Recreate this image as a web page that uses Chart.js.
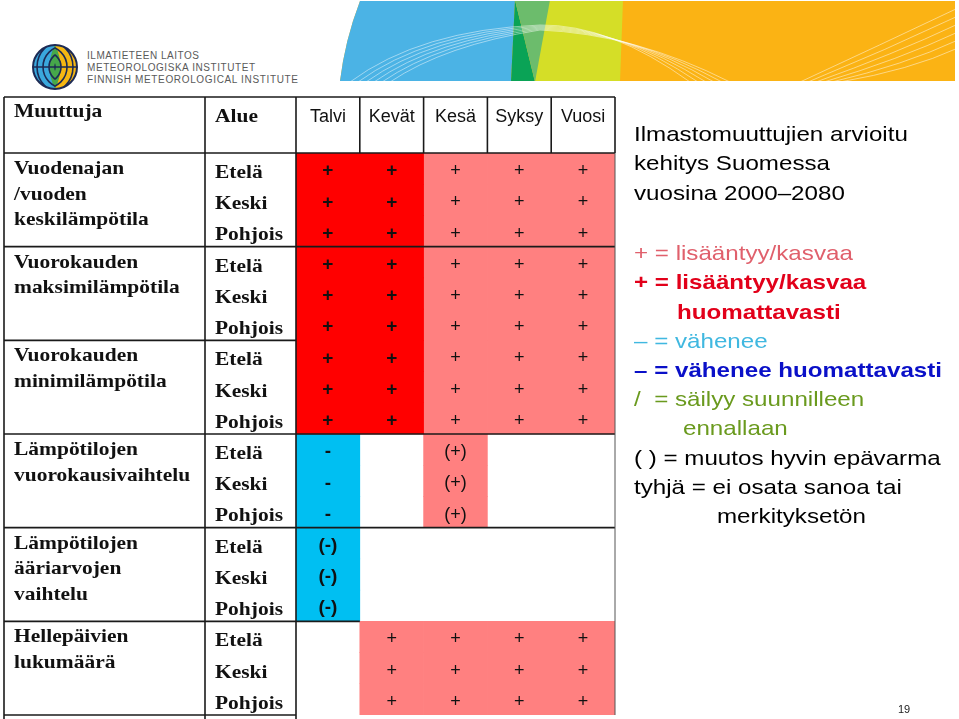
<!DOCTYPE html>
<html><head><meta charset="utf-8">
<script src="https://cdn.jsdelivr.net/npm/chart.js@4.4.1/dist/chart.umd.min.js"></script>
<style>
html,body{margin:0;padding:0;background:#fff;width:959px;height:719px;overflow:hidden;}
#wrap{position:relative;width:959px;height:719px;}
canvas{position:absolute;left:0;top:0;}
svg{position:absolute;left:0;top:0;}
.t{position:absolute;left:634px;font-family:'Liberation Sans',Arial,sans-serif;font-size:21px;line-height:29px;white-space:nowrap;transform:scaleX(1.15);transform-origin:0 0;}
.b{font-weight:bold;}
</style></head><body>
<div id="wrap">
<svg width="959" height="100" viewBox="0 0 959 100">
  <defs>
    <clipPath id="bc"><path d="M360 1 L955 1 L955 81 L340 81 Q345 40 360 1 Z"/></clipPath>
    <clipPath id="lc"><circle cx="55" cy="67" r="22"/></clipPath>
    <clipPath id="ll"><rect x="30" y="40" width="25" height="55"/></clipPath>
    <clipPath id="lr"><rect x="55" y="40" width="25" height="55"/></clipPath>
  </defs>
  <g clip-path="url(#bc)">
    <rect x="330" y="0" width="630" height="82" fill="#fbb314"/>
    <polygon points="330,0 515,0 511,82 330,82" fill="#4bb3e5"/>
    <polygon points="515,0 623,0 620,82 535,82" fill="#d5de27"/>
    <polygon points="515,0 511,82 535,82" fill="#0aa356"/>
    <polygon points="515,0 550,0 535,82" fill="#6cbc6c"/>
    <g fill="none" stroke="#ffffff" stroke-opacity="0.6" stroke-width="0.8">
      <path d="M350 82 Q420 30 540 25 Q610 24 690 82"/>
      <path d="M358 82 Q425 33 540 26 Q615 26 698 82"/>
      <path d="M366 82 Q430 36 540 27 Q620 28 706 82"/>
      <path d="M374 82 Q435 39 540 28 Q625 30 714 82"/>
      <path d="M382 82 Q440 42 540 29 Q630 32 722 82"/>
      <path d="M390 82 Q445 45 540 30 Q635 34 730 82"/>
      <path d="M800 82 Q880 45 958 8"/>
      <path d="M808 82 Q886 50 958 16"/>
      <path d="M816 82 Q892 55 958 24"/>
      <path d="M824 82 Q898 60 958 32"/>
      <path d="M832 82 Q904 65 958 40"/>
      <path d="M840 82 Q910 70 958 48"/>
    </g>
  </g>
  <g clip-path="url(#lc)">
    <rect x="30" y="40" width="25" height="55" fill="#3aa8dd"/>
    <rect x="55" y="40" width="25" height="55" fill="#f6b712"/>
    <path d="M55 45 Q66 67 55 89 Q44 67 55 45 Z" fill="#46a84a"/>
    <g fill="none" stroke="#1d2b55" stroke-width="1.6" clip-path="url(#ll)">
      <circle cx="64" cy="67" r="9"/><circle cx="64" cy="67" r="15"/><circle cx="64" cy="67" r="21"/><circle cx="64" cy="67" r="27"/>
    </g>
    <g fill="none" stroke="#1d2b55" stroke-width="1.6" clip-path="url(#lr)">
      <circle cx="46" cy="67" r="9"/><circle cx="46" cy="67" r="15"/><circle cx="46" cy="67" r="21"/><circle cx="46" cy="67" r="27"/>
    </g>
    <line x1="33" y1="67" x2="77" y2="67" stroke="#1d2b55" stroke-width="1.4"/>
  </g>
  <circle cx="55" cy="67" r="22" fill="none" stroke="#1d2b55" stroke-width="2"/>
  <g font-family="'Liberation Sans',Arial,sans-serif" font-size="10" fill="#5a5a5a">
    <text x="87" y="59" textLength="112" lengthAdjust="spacing">ILMATIETEEN LAITOS</text>
    <text x="87" y="71" textLength="168" lengthAdjust="spacing">METEOROLOGISKA INSTITUTET</text>
    <text x="87" y="83" textLength="211" lengthAdjust="spacing">FINNISH METEOROLOGICAL INSTITUTE</text>
  </g>
</svg>
<canvas id="c" width="959" height="719"></canvas>
<div class="t" style="top:119px;color:#000">Ilmastomuuttujien arvioitu</div>
<div class="t" style="top:148px;color:#000">kehitys Suomessa</div>
<div class="t" style="top:178px;color:#000">vuosina 2000–2080</div>
<div class="t" style="top:238px;color:#e0606c">+ = lisääntyy/kasvaa</div>
<div class="t b" style="top:267px;color:#e2001a">+ = lisääntyy/kasvaa</div>
<div class="t b" style="top:297px;left:677px;color:#e2001a">huomattavasti</div>
<div class="t" style="top:326px;color:#40b8e0">– = vähenee</div>
<div class="t b" style="top:355px;color:#0a10c8">– = vähenee huomattavasti</div>
<div class="t" style="top:384px;color:#6a9a1e">/&nbsp; = säilyy suunnilleen</div>
<div class="t" style="top:413px;left:683px;color:#6a9a1e">ennallaan</div>
<div class="t" style="top:443px;color:#000">( ) = muutos hyvin epävarma</div>
<div class="t" style="top:472px;color:#000">tyhjä = ei osata sanoa tai</div>
<div class="t" style="top:501px;left:717px;color:#000">merkityksetön</div>
<div style="position:absolute;left:898px;top:703px;font-family:'Liberation Sans',Arial,sans-serif;font-size:11px;color:#222;">19</div>
</div>
<script>
// ---- data ----
const seasons = ['Talvi', 'Kevät', 'Kesä', 'Syksy', 'Vuosi'];
const regions = ['Etelä', 'Keski', 'Pohjois'];
const variables = [
  ['Vuodenajan', '/vuoden', 'keskilämpötila'],
  ['Vuorokauden', 'maksimilämpötila'],
  ['Vuorokauden', 'minimilämpötila'],
  ['Lämpötilojen', 'vuorokausivaihtelu'],
  ['Lämpötilojen', 'ääriarvojen', 'vaihtelu'],
  ['Hellepäivien', 'lukumäärä']
];
// change code per season (same for every region):
// 2 = lisääntyy huomattavasti, 1 = lisääntyy, 0.5 = (+) epävarma,
// -1 = vähenee, -0.5 = (-) epävarma, null = tyhjä
const keskilampotila     = [2, 2, 1, 1, 1];
const maksimilampotila   = [2, 2, 1, 1, 1];
const minimilampotila    = [2, 2, 1, 1, 1];
const vuorokausivaihtelu = [-1, null, 0.5, null, null];
const aariarvojenVaihtelu = [-0.5, null, null, null, null];
const hellepaivat        = [null, 1, 1, 1, 1];
const changes = [keskilampotila, maksimilampotila, minimilampotila, vuorokausivaihtelu, aariarvojenVaihtelu, hellepaivat];

const symbolFor = {'2': '+', '1': '+', '0.5': '(+)', '-1': '-', '-0.5': '(-)'};

// ---- build bar data ----
const strong = [], up = [], down = [];
changes.forEach((vals, v) => {
  regions.forEach((reg, r) => {
    const row = v * regions.length + r;
    vals.forEach((val, s) => {
      if (val === null) return;
      const pt = {x: seasons[s], y: [row, row + 1]};
      if (val >= 2) strong.push(pt); else if (val > 0) up.push(pt); else down.push(pt);
    });
  });
});
const nRows = variables.length * regions.length;

const tablePlugin = {
  id: 'tableChrome',
  afterDatasetsDraw(chart) {
    const ctx = chart.ctx, xs = chart.scales.x, ys = chart.scales.y, ca = chart.chartArea;
    const L = 4, C1 = 205, C2 = ca.left, R = ca.right, T = 97, HB = ca.top;
    const edges = [ca.left];
    for (let i = 0; i < seasons.length - 1; i++) edges.push((xs.getPixelForValue(i) + xs.getPixelForValue(i + 1)) / 2);
    edges.push(ca.right);
    ctx.save();
    // cell symbols
    ctx.fillStyle = '#111';
    ctx.textAlign = 'center';
    ctx.textBaseline = 'middle';
    changes.forEach((vals, v) => {
      regions.forEach((reg, r) => {
        const row = v * regions.length + r;
        const y = (ys.getPixelForValue(row) + ys.getPixelForValue(row + 1)) / 2 + 2.5;
        vals.forEach((val, s) => {
          if (val === null) return;
          const sym = symbolFor[String(val)];
          ctx.font = (val >= 2 || val < 0 ? 'bold 19px ' : '18px ') + '"Liberation Sans", Arial, sans-serif';
          ctx.fillText(sym, xs.getPixelForValue(s), y);
        });
      });
    });
    // header texts
    ctx.textAlign = 'center';
    ctx.textBaseline = 'alphabetic';
    ctx.fillStyle = '#111';
    ctx.font = '18px "Liberation Sans", Arial, sans-serif';
    seasons.forEach((s, i) => ctx.fillText(s, (edges[i] + edges[i + 1]) / 2, 122));
    const serif = 'bold 19px "Liberation Serif", "Times New Roman", serif';
    const stext = (t, x, y) => { ctx.save(); ctx.translate(x, y); ctx.scale(1.13, 1); ctx.fillText(t, 0, 0); ctx.restore(); };
    ctx.textAlign = 'left';
    ctx.font = serif;
    stext('Muuttuja', 14, 116.5);
    stext('Alue', 215, 121.5);
    variables.forEach((lines, v) => {
      const gTop = ys.getPixelForValue(v * regions.length);
      lines.forEach((ln, k) => stext(ln, 14, gTop + 21 + k * 25.5));
      regions.forEach((reg, r) => stext(reg, 215, ys.getPixelForValue(v * regions.length + r) + 25));
    });
    // grid lines
    ctx.strokeStyle = '#1a1a1a';
    ctx.lineWidth = 1.6;
    const hl = (x1, x2, y) => { ctx.beginPath(); ctx.moveTo(x1, y); ctx.lineTo(x2, y); ctx.stroke(); };
    const vl = (x, y1, y2) => { ctx.beginPath(); ctx.moveTo(x, y1); ctx.lineTo(x, y2); ctx.stroke(); };
    hl(L, R, T);
    hl(L, R, HB);
    vl(L, T, 719); vl(C1, T, 719); vl(C2, T, 719);
    for (let i = 1; i < edges.length - 1; i++) vl(edges[i], T, HB);
    vl(R, T, HB);
    // group boundaries: end of line (in px) per boundary
    const groupEnds = [R, C2, R, R, edges[1], C2];
    groupEnds.forEach((end, g) => hl(L, end, ys.getPixelForValue((g + 1) * regions.length)));
    ctx.lineWidth = 1;
    ctx.strokeStyle = '#555';
    vl(R, HB, ys.getPixelForValue(nRows));
    ctx.restore();
  }
};

const common = {grouped: false, barPercentage: 1, categoryPercentage: 1, borderWidth: 0, borderSkipped: false};
new Chart(document.getElementById('c'), {
  type: 'bar',
  data: {
    labels: seasons,
    datasets: [
      Object.assign({label: 'lisääntyy huomattavasti', data: strong, backgroundColor: '#ff0000'}, common),
      Object.assign({label: 'lisääntyy', data: up, backgroundColor: '#ff8080'}, common),
      Object.assign({label: 'vähenee', data: down, backgroundColor: '#00bff2'}, common)
    ]
  },
  options: {
    responsive: false,
    animation: false,
    devicePixelRatio: 1,
    layout: {padding: {left: 296, right: 959 - 615, top: 153, bottom: 719 - 715}},
    scales: {
      x: {type: 'category', display: false, offset: true},
      y: {type: 'linear', min: 0, max: nRows, reverse: true, display: false}
    },
    plugins: {legend: {display: false}, tooltip: {enabled: false}}
  },
  plugins: [tablePlugin]
});
</script>
</body></html>
